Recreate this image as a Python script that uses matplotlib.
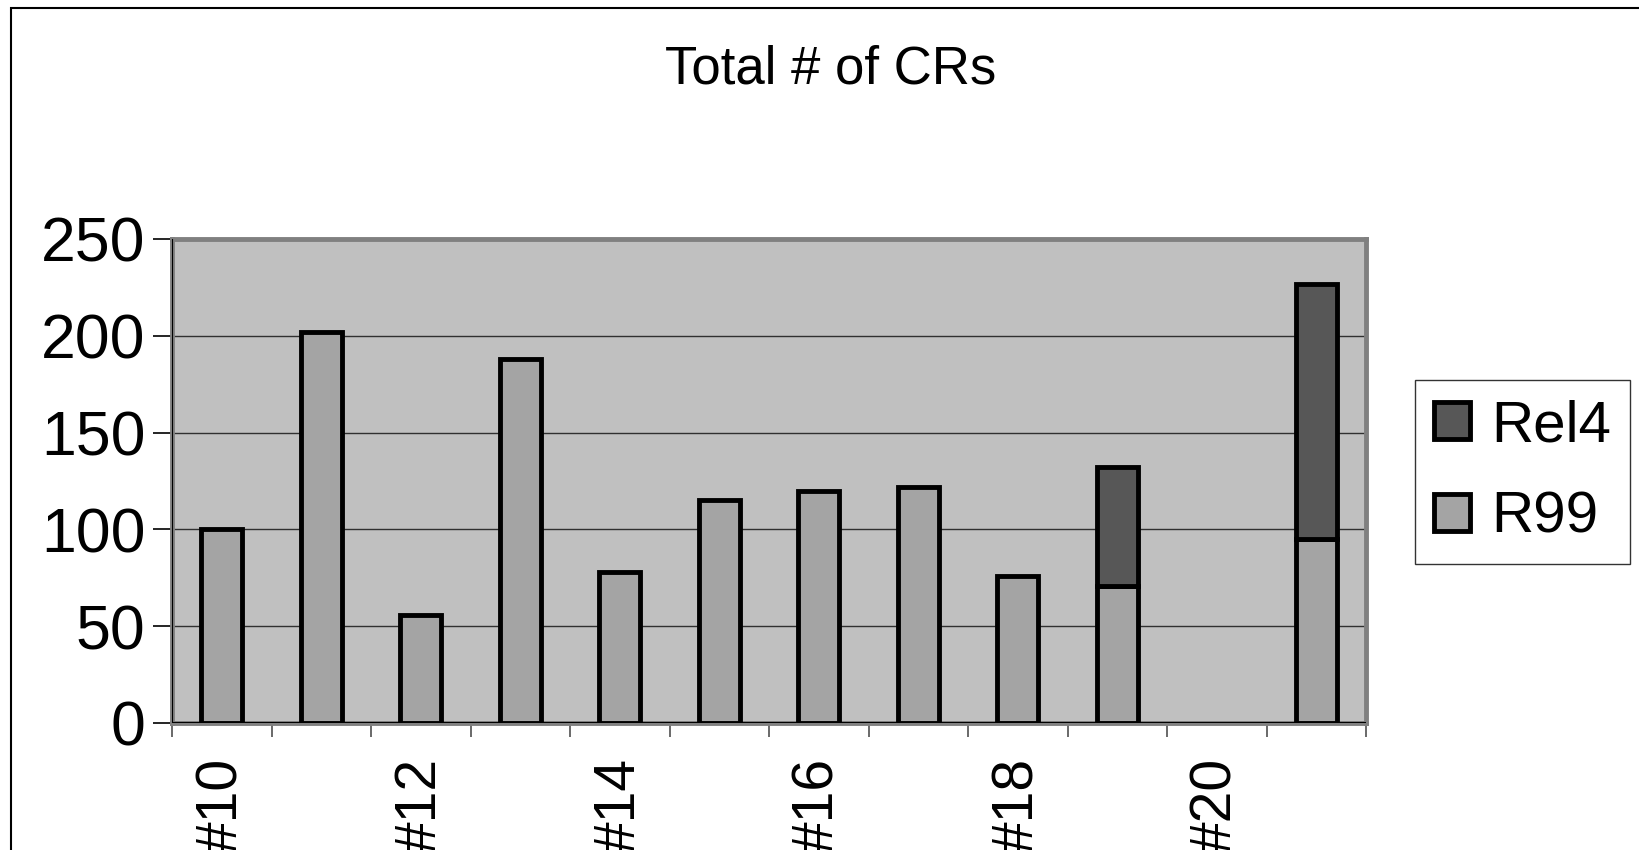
import matplotlib
matplotlib.use("Agg")
import matplotlib.pyplot as plt
from matplotlib.patches import Patch, Rectangle
import numpy as np

categories = ['#10', '#11', '#12', '#13', '#14', '#15', '#16', '#17', '#18', '#19', '#20', '#21']
r99 = [100, 202, 56, 188, 78, 115, 120, 122, 76, 71, 0, 95]
rel4 = [0, 0, 0, 0, 0, 0, 0, 0, 0, 61, 0, 132]
yticks = [0, 50, 100, 150, 200, 250]
title = 'Total # of CRs'

C_R99 = '#a4a4a4'
C_REL4 = '#575757'
C_BG = '#c0c0c0'
FONT = 'Liberation Sans'

plt.rcParams['font.family'] = [FONT, 'DejaVu Sans']

W, H = 1639, 850
fig = plt.figure(figsize=(W / 100, H / 100), dpi=100)
ax = fig.add_axes([172 / W, 1 - 723 / H, (1366 - 172) / W, (723 - 239) / H])
ax.set_facecolor(C_BG)

x = np.arange(len(categories))
r99_a = np.array(r99, dtype=float)
rel4_a = np.array(rel4, dtype=float)
m1 = r99_a > 0
m2 = rel4_a > 0
ax.bar(x[m1], r99_a[m1], width=0.41, color=C_R99, edgecolor='black', linewidth=3.5, zorder=3)
ax.bar(x[m2], rel4_a[m2], bottom=r99_a[m2], width=0.41, color=C_REL4, edgecolor='black', linewidth=3.5, zorder=3)

ax.set_xlim(-0.5, len(categories) - 0.5)
ax.set_ylim(0, 250)
ax.set_yticks(yticks)
ax.set_yticklabels([str(v) for v in yticks], fontsize=45)
ax.yaxis.grid(True, color='#303030', linewidth=1.0, zorder=1)
ax.set_axisbelow(True)
ax.tick_params(axis='y', direction='out', length=14, width=1.2, color='black', pad=5)

ax.set_xticks(x[::2])
ax.set_xticklabels(categories[::2], rotation=90, fontsize=41, va='top', ha='center')
ax.tick_params(axis='x', which='major', length=0, pad=25)
ax.set_xticks(np.arange(-0.5, len(categories)), minor=True)
ax.tick_params(axis='x', which='minor', direction='out', length=10, width=1.2, color='#505050')

for s in ax.spines.values():
    s.set_color('#808080')
    s.set_linewidth(3.5)
ax.axhline(0, color='black', linewidth=1.5, zorder=4)
ax.axvline(-0.5, color='black', linewidth=1.5, zorder=4)

fig.text(831 / W, 1 - 70 / H, title, fontsize=38, ha='center', va='center')

handles = [Patch(facecolor=C_REL4, edgecolor='black', linewidth=3.5, label='Rel4'),
           Patch(facecolor=C_R99, edgecolor='black', linewidth=3.5, label='R99')]
leg = fig.legend(handles=handles, loc='center left', bbox_to_anchor=(1415 / W, 1 - 472 / H),
                 fontsize=42, frameon=True, fancybox=False, edgecolor='black',
                 handlelength=0.62, handleheight=0.62, handletextpad=0.35,
                 labelspacing=0.65, borderpad=0.33, borderaxespad=0)
leg.get_frame().set_linewidth(1.0)

fig.patches.append(Rectangle((11 / W, -0.1), 2.0, 1.1 - 8 / H, transform=fig.transFigure,
                             fill=False, edgecolor='black', linewidth=1.5))

fig.savefig('out.png', dpi=100)
